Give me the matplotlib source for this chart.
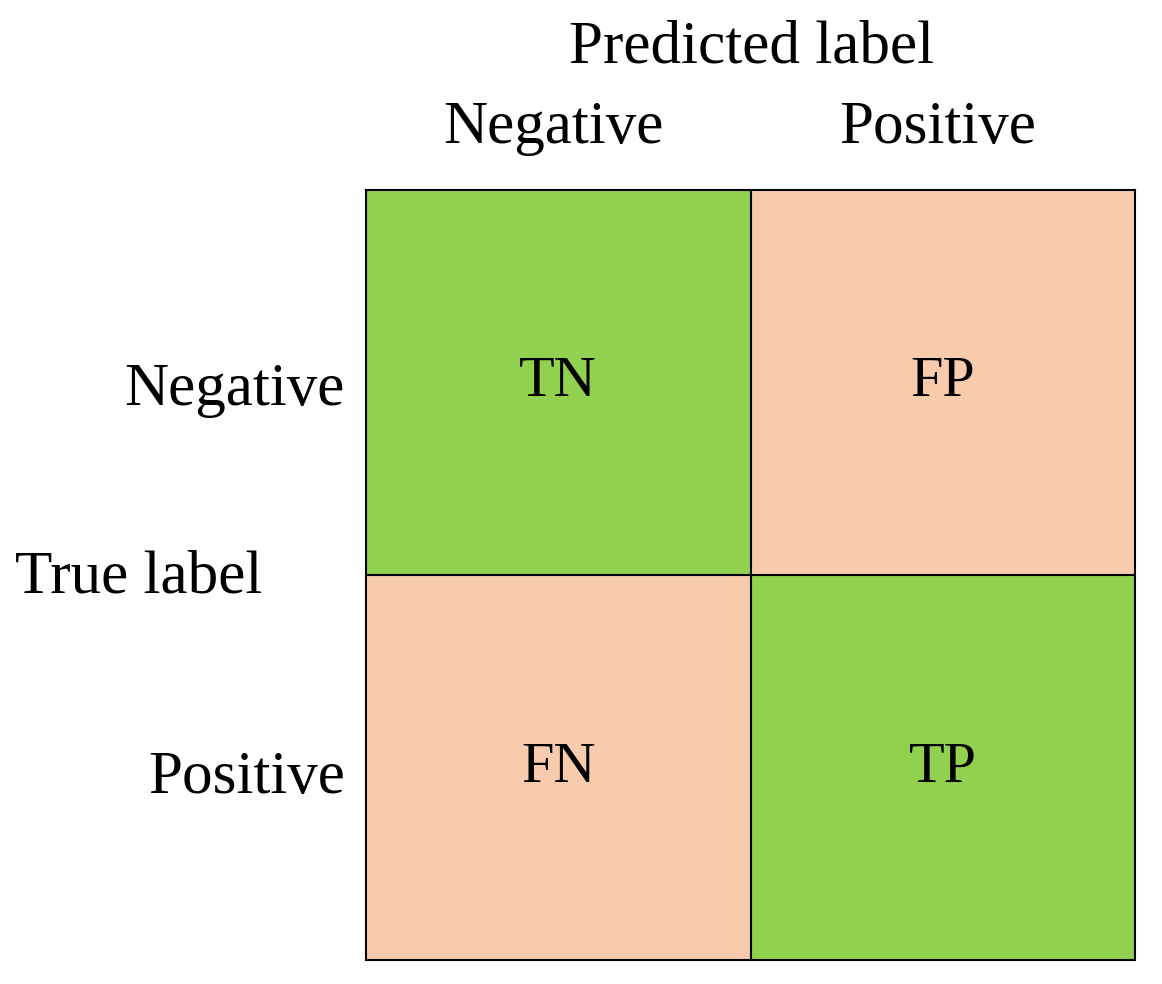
import matplotlib
matplotlib.use("Agg")
import matplotlib.pyplot as plt
from matplotlib.colors import ListedColormap
import numpy as np

cell_labels = [["TN", "FP"], ["FN", "TP"]]
correct = np.array([[1, 0], [0, 1]])
col_labels = ["Negative", "Positive"]
row_labels = ["Negative", "Positive"]

plt.rcParams['font.family'] = ['Liberation Serif', 'DejaVu Serif']
W, H = 1162, 984
fig = plt.figure(figsize=(W/100, H/100), dpi=100)
ax = fig.add_axes([366/W, 1-960/H, 769/W, 770/H])
cmap = ListedColormap(["#F8CBAD", "#92D050"])
ax.imshow(correct, cmap=cmap, vmin=0, vmax=1, aspect='auto',
          extent=(-0.5, 1.5, 1.5, -0.5))
for v in [0.5]:
    ax.axhline(v, color='black', lw=1.5)
    ax.axvline(v, color='black', lw=1.5)
for s in ax.spines.values():
    s.set_linewidth(1.5)
for i in range(2):
    for j in range(2):
        ax.text(j, i, cell_labels[i][j], ha='center', va='center', fontsize=42)
ax.set_xticks([])
ax.set_yticks([])

def ftext(x, y, s, ha='center', **kw):
    fig.text(x/W, 1-y/H, s, ha=ha, va='center', fontsize=44, **kw)

ftext(752, 48, "Predicted label")
ftext(553, 128, col_labels[0])
ftext(938, 128, col_labels[1])
ftext(345, 390, row_labels[0], ha='right')
ftext(345, 778, row_labels[1], ha='right')
ftext(15, 578, "True label", ha='left')
fig.savefig("out.png", dpi=100)
